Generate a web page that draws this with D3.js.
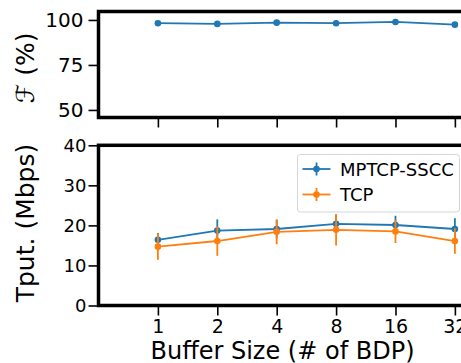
<!DOCTYPE html>
<html>
<head>
<meta charset="utf-8">
<script src="https://cdn.jsdelivr.net/npm/d3@7"></script>
<style>
  html, body { margin: 0; padding: 0; background: #fff; }
  svg { display: block; font-family: "DejaVu Sans", sans-serif; }
</style>
</head>
<body>
<svg id="chart" width="461" height="363"></svg>
<script>
// ---- data ----
const bufferSizes = [1, 2, 4, 8, 16, 32];
const xTickLabels = ["1", "2", "4", "8", "16", "32"];
const fairness = [98.2, 97.8, 98.5, 98.2, 98.9, 97.4];
const fairnessErr = [0.4, 0.4, 0.4, 0.4, 0.4, 0.8];
const mptcpTput = [16.4, 18.7, 19.1, 20.4, 20.1, 19.1];
const mptcpErr = [1.7, 2.8, 2.3, 2.3, 2.3, 2.7];
const tcpTput = [14.7, 16.1, 18.4, 18.9, 18.5, 16.1];
const tcpErr = [3.3, 3.7, 3.1, 3.9, 2.9, 3.2];
const topTicks = [50, 75, 100];
const bottomTicks = [0, 10, 20, 30, 40];
const seriesNames = ["MPTCP-SSCC", "TCP"];
const colors = ["#1f77b4", "#ff7f0e"];

const svg = d3.select("#chart");

const x = d3.scaleLog().base(2).domain([0.5, 40]).range([98.5, 474]);
const yTop = d3.scaleLinear().domain([45.8, 104.7]).range([117.5, 11.5]);
const yBot = d3.scaleLinear().domain([0, 40]).range([305.5, 145.3]);

function drawFrame(y, top, bottom) {
  svg.append("rect")
    .attr("x", x.range()[0]).attr("y", top)
    .attr("width", x.range()[1] - x.range()[0]).attr("height", bottom - top)
    .attr("fill", "none").attr("stroke", "#000").attr("stroke-width", 3.5);
}

function yAxis(y, ticks, fontSize, pad) {
  const g = svg.append("g").attr("transform", `translate(${x.range()[0]},0)`)
    .call(d3.axisLeft(y).tickValues(ticks).tickSize(10).tickPadding(pad).tickFormat(d3.format("d")));
  g.select(".domain").remove();
  g.selectAll(".tick line").attr("stroke", "#000").attr("stroke-width", 1.6);
  g.selectAll(".tick text").attr("fill", "#000").attr("font-size", fontSize)
    .attr("font-family", "DejaVu Sans");
}

function xAxis(yPos, showLabels) {
  const g = svg.append("g").attr("transform", `translate(0,${yPos})`)
    .call(d3.axisBottom(x).tickValues(bufferSizes).tickSize(10).tickPadding(4)
      .tickFormat((d, i) => showLabels ? xTickLabels[i] : ""));
  g.select(".domain").remove();
  g.selectAll(".tick line").attr("stroke", "#000").attr("stroke-width", 1.6);
  g.selectAll(".tick text").attr("fill", "#000").attr("font-size", 19)
    .attr("font-family", "DejaVu Sans");
}

function series(y, vals, errs, color) {
  const g = svg.append("g");
  g.append("path")
    .datum(vals)
    .attr("fill", "none").attr("stroke", color).attr("stroke-width", 1.8)
    .attr("d", d3.line().x((d, i) => x(bufferSizes[i])).y(d => y(d)));
  g.selectAll("line.err").data(vals).join("line")
    .attr("x1", (d, i) => x(bufferSizes[i])).attr("x2", (d, i) => x(bufferSizes[i]))
    .attr("y1", (d, i) => y(d - errs[i])).attr("y2", (d, i) => y(d + errs[i]))
    .attr("stroke", color).attr("stroke-width", 1.8);
  g.selectAll("circle").data(vals).join("circle")
    .attr("cx", (d, i) => x(bufferSizes[i])).attr("cy", d => y(d))
    .attr("r", 3.3).attr("fill", color);
}

// top panel
yAxis(yTop, topTicks, 20, 5);
xAxis(117.5, false);
series(yTop, fairness, fairnessErr, colors[0]);
drawFrame(yTop, 11.5, 117.5);

// bottom panel
yAxis(yBot, bottomTicks, 18, 2);
xAxis(305.5, true);
series(yBot, mptcpTput, mptcpErr, colors[0]);
series(yBot, tcpTput, tcpErr, colors[1]);
drawFrame(yBot, 145.3, 305.5);

// y labels
svg.append("text")
  .attr("transform", "translate(34,68) rotate(-90)")
  .attr("text-anchor", "middle").attr("font-size", 25).attr("fill", "#000")
  .text("ℱ (%)");
svg.append("text")
  .attr("transform", "translate(34,223) rotate(-90)")
  .attr("text-anchor", "middle").attr("font-size", 25).attr("fill", "#000")
  .text("Tput. (Mbps)");

// x label
svg.append("text")
  .attr("x", 282.5).attr("y", 359)
  .attr("text-anchor", "middle").attr("font-size", 24).attr("fill", "#000")
  .text("Buffer Size (# of BDP)");

// legend
const leg = svg.append("g");
leg.append("rect")
  .attr("x", 297.5).attr("y", 154.5).attr("width", 162).attr("height", 57.5)
  .attr("rx", 3).attr("fill", "#fff").attr("fill-opacity", 0.8)
  .attr("stroke", "#d5d5d5").attr("stroke-width", 1);
const legRows = [169, 194.5];
seriesNames.forEach((name, i) => {
  const yy = legRows[i];
  leg.append("line").attr("x1", 302.5).attr("x2", 330.5).attr("y1", yy).attr("y2", yy)
    .attr("stroke", colors[i]).attr("stroke-width", 1.8);
  leg.append("line").attr("x1", 316.5).attr("x2", 316.5).attr("y1", yy - 6.5).attr("y2", yy + 6.5)
    .attr("stroke", colors[i]).attr("stroke-width", 1.8);
  leg.append("circle").attr("cx", 316.5).attr("cy", yy).attr("r", 3.3).attr("fill", colors[i]);
  leg.append("text").attr("x", 340).attr("y", yy + 6.5).attr("font-size", 18).attr("fill", "#000")
    .text(name);
});
</script>
</body>
</html>
